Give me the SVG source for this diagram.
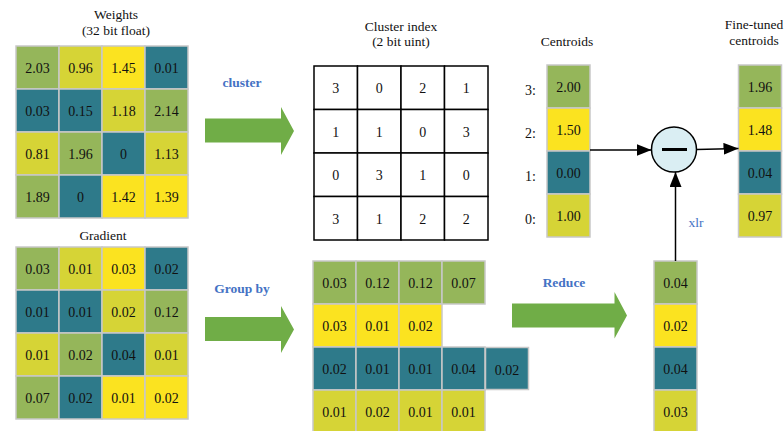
<svg xmlns="http://www.w3.org/2000/svg" width="784" height="431" viewBox="0 0 784 431" font-family="'Liberation Serif', 'DejaVu Serif', serif">
<style>
text{font-family:'Liberation Serif','DejaVu Serif',serif;fill:#111;}
.t{font-size:14px;text-anchor:middle;}
.h{font-size:13.5px;text-anchor:middle;}
.b{font-size:13.5px;font-weight:bold;fill:#4472C4;text-anchor:middle;}
.c{stroke:#C8C8C8;stroke-width:1.5;}
.G{fill:#95B65A;}
.Y{fill:#FBE320;}
.T{fill:#2E7A8A;}
.L{fill:#D6D436;}
.k{fill:#fff;stroke:#000;stroke-width:1.5;}
.ar{fill:#70AD47;}
.ln{stroke:#000;stroke-width:1.5;fill:none;}
</style>
<defs>
<marker id="ah" markerWidth="15" markerHeight="12" refX="15" refY="6" orient="auto" markerUnits="userSpaceOnUse">
<path d="M0,0 L15,6 L0,12 Z" fill="#000"/>
</marker>
</defs>

<g id="weights">
<text class="h" x="116" y="19">Weights</text>
<text class="h" x="116" y="35">(32 bit float)</text>
<rect class="c G" x="16" y="46" width="43" height="43"/><text class="t" x="37.5" y="73">2.03</text>
<rect class="c L" x="59" y="46" width="43" height="43"/><text class="t" x="80.5" y="73">0.96</text>
<rect class="c Y" x="102" y="46" width="43" height="43"/><text class="t" x="123.5" y="73">1.45</text>
<rect class="c T" x="145" y="46" width="43" height="43"/><text class="t" x="166.5" y="73">0.01</text>
<rect class="c T" x="16" y="89" width="43" height="43"/><text class="t" x="37.5" y="116">0.03</text>
<rect class="c T" x="59" y="89" width="43" height="43"/><text class="t" x="80.5" y="116">0.15</text>
<rect class="c L" x="102" y="89" width="43" height="43"/><text class="t" x="123.5" y="116">1.18</text>
<rect class="c G" x="145" y="89" width="43" height="43"/><text class="t" x="166.5" y="116">2.14</text>
<rect class="c L" x="16" y="132" width="43" height="43"/><text class="t" x="37.5" y="159">0.81</text>
<rect class="c G" x="59" y="132" width="43" height="43"/><text class="t" x="80.5" y="159">1.96</text>
<rect class="c T" x="102" y="132" width="43" height="43"/><text class="t" x="123.5" y="159">0</text>
<rect class="c L" x="145" y="132" width="43" height="43"/><text class="t" x="166.5" y="159">1.13</text>
<rect class="c G" x="16" y="175" width="43" height="43"/><text class="t" x="37.5" y="202">1.89</text>
<rect class="c T" x="59" y="175" width="43" height="43"/><text class="t" x="80.5" y="202">0</text>
<rect class="c Y" x="102" y="175" width="43" height="43"/><text class="t" x="123.5" y="202">1.42</text>
<rect class="c Y" x="145" y="175" width="43" height="43"/><text class="t" x="166.5" y="202">1.39</text>
</g>

<g id="gradient">
<text class="h" x="103" y="240">Gradient</text>
<rect class="c G" x="16" y="247" width="43" height="43"/><text class="t" x="37.5" y="274">0.03</text>
<rect class="c L" x="59" y="247" width="43" height="43"/><text class="t" x="80.5" y="274">0.01</text>
<rect class="c Y" x="102" y="247" width="43" height="43"/><text class="t" x="123.5" y="274">0.03</text>
<rect class="c T" x="145" y="247" width="43" height="43"/><text class="t" x="166.5" y="274">0.02</text>
<rect class="c T" x="16" y="290" width="43" height="43"/><text class="t" x="37.5" y="317">0.01</text>
<rect class="c T" x="59" y="290" width="43" height="43"/><text class="t" x="80.5" y="317">0.01</text>
<rect class="c L" x="102" y="290" width="43" height="43"/><text class="t" x="123.5" y="317">0.02</text>
<rect class="c G" x="145" y="290" width="43" height="43"/><text class="t" x="166.5" y="317">0.12</text>
<rect class="c L" x="16" y="333" width="43" height="43"/><text class="t" x="37.5" y="360">0.01</text>
<rect class="c G" x="59" y="333" width="43" height="43"/><text class="t" x="80.5" y="360">0.02</text>
<rect class="c T" x="102" y="333" width="43" height="43"/><text class="t" x="123.5" y="360">0.04</text>
<rect class="c L" x="145" y="333" width="43" height="43"/><text class="t" x="166.5" y="360">0.01</text>
<rect class="c G" x="16" y="376" width="43" height="43"/><text class="t" x="37.5" y="403">0.07</text>
<rect class="c T" x="59" y="376" width="43" height="43"/><text class="t" x="80.5" y="403">0.02</text>
<rect class="c Y" x="102" y="376" width="43" height="43"/><text class="t" x="123.5" y="403">0.01</text>
<rect class="c Y" x="145" y="376" width="43" height="43"/><text class="t" x="166.5" y="403">0.02</text>
</g>

<g id="cluster-arrow">
<text class="b" x="242" y="87">cluster</text>
<path class="ar" d="M205,118.5 H281 V107 L294,131 L281,155 V142.5 H205 Z"/>
</g>

<g id="groupby-arrow">
<text class="b" x="242" y="293">Group by</text>
<path class="ar" d="M205,317 H281 V306 L294,329.5 L281,353 V341 H205 Z"/>
</g>

<g id="cluster-index">
<text class="h" x="401" y="31">Cluster index</text>
<text class="h" x="401" y="46">(2 bit uint)</text>
<rect class="k" x="314" y="66" width="43.5" height="43.5"/><text class="t" x="335.75" y="93">3</text>
<rect class="k" x="357.5" y="66" width="43.5" height="43.5"/><text class="t" x="379.25" y="93">0</text>
<rect class="k" x="401" y="66" width="43.5" height="43.5"/><text class="t" x="422.75" y="93">2</text>
<rect class="k" x="444.5" y="66" width="43.5" height="43.5"/><text class="t" x="466.25" y="93">1</text>
<rect class="k" x="314" y="109.5" width="43.5" height="43.5"/><text class="t" x="335.75" y="136.5">1</text>
<rect class="k" x="357.5" y="109.5" width="43.5" height="43.5"/><text class="t" x="379.25" y="136.5">1</text>
<rect class="k" x="401" y="109.5" width="43.5" height="43.5"/><text class="t" x="422.75" y="136.5">0</text>
<rect class="k" x="444.5" y="109.5" width="43.5" height="43.5"/><text class="t" x="466.25" y="136.5">3</text>
<rect class="k" x="314" y="153" width="43.5" height="43.5"/><text class="t" x="335.75" y="180">0</text>
<rect class="k" x="357.5" y="153" width="43.5" height="43.5"/><text class="t" x="379.25" y="180">3</text>
<rect class="k" x="401" y="153" width="43.5" height="43.5"/><text class="t" x="422.75" y="180">1</text>
<rect class="k" x="444.5" y="153" width="43.5" height="43.5"/><text class="t" x="466.25" y="180">0</text>
<rect class="k" x="314" y="196.5" width="43.5" height="43.5"/><text class="t" x="335.75" y="223.5">3</text>
<rect class="k" x="357.5" y="196.5" width="43.5" height="43.5"/><text class="t" x="379.25" y="223.5">1</text>
<rect class="k" x="401" y="196.5" width="43.5" height="43.5"/><text class="t" x="422.75" y="223.5">2</text>
<rect class="k" x="444.5" y="196.5" width="43.5" height="43.5"/><text class="t" x="466.25" y="223.5">2</text>
</g>

<g id="grouped">
<rect class="c G" x="313" y="261" width="43" height="43"/><text class="t" x="334.5" y="288">0.03</text>
<rect class="c G" x="356" y="261" width="43" height="43"/><text class="t" x="377.5" y="288">0.12</text>
<rect class="c G" x="399" y="261" width="43" height="43"/><text class="t" x="420.5" y="288">0.12</text>
<rect class="c G" x="442" y="261" width="43" height="43"/><text class="t" x="463.5" y="288">0.07</text>
<rect class="c Y" x="313" y="304" width="43" height="43"/><text class="t" x="334.5" y="331">0.03</text>
<rect class="c Y" x="356" y="304" width="43" height="43"/><text class="t" x="377.5" y="331">0.01</text>
<rect class="c Y" x="399" y="304" width="43" height="43"/><text class="t" x="420.5" y="331">0.02</text>
<rect class="c T" x="313" y="347" width="43" height="43"/><text class="t" x="334.5" y="374">0.02</text>
<rect class="c T" x="356" y="347" width="43" height="43"/><text class="t" x="377.5" y="374">0.01</text>
<rect class="c T" x="399" y="347" width="43" height="43"/><text class="t" x="420.5" y="374">0.01</text>
<rect class="c T" x="442" y="347" width="43" height="43"/><text class="t" x="463.5" y="374">0.04</text>
<rect class="c T" x="485.5" y="347.5" width="43" height="42"/><text class="t" x="507" y="375">0.02</text>
<rect class="c L" x="313" y="390" width="43" height="43"/><text class="t" x="334.5" y="417">0.01</text>
<rect class="c L" x="356" y="390" width="43" height="43"/><text class="t" x="377.5" y="417">0.02</text>
<rect class="c L" x="399" y="390" width="43" height="43"/><text class="t" x="420.5" y="417">0.01</text>
<rect class="c L" x="442" y="390" width="43" height="43"/><text class="t" x="463.5" y="417">0.01</text>
</g>

<g id="reduce-arrow">
<text class="b" x="564" y="287">Reduce</text>
<path class="ar" d="M512,303.5 H614.5 V292 L627,315.5 L614.5,338.5 V327.5 H512 Z"/>
</g>

<g id="reduced">
<rect class="c G" x="654" y="261" width="43" height="43"/><text class="t" x="675.5" y="288">0.04</text>
<rect class="c Y" x="654" y="304" width="43" height="43"/><text class="t" x="675.5" y="331">0.02</text>
<rect class="c T" x="654" y="347" width="43" height="43"/><text class="t" x="675.5" y="374">0.04</text>
<rect class="c L" x="654" y="390" width="43" height="43"/><text class="t" x="675.5" y="417">0.03</text>
</g>

<g id="centroids">
<text class="h" x="567" y="46">Centroids</text>
<text class="t" x="530.5" y="95">3:</text>
<text class="t" x="530.5" y="138">2:</text>
<text class="t" x="530.5" y="180.5">1:</text>
<text class="t" x="530.5" y="223.5">0:</text>
<rect class="c G" x="547" y="65" width="43" height="43"/><text class="t" x="568.5" y="92">2.00</text>
<rect class="c Y" x="547" y="108" width="43" height="43"/><text class="t" x="568.5" y="135">1.50</text>
<rect class="c T" x="547" y="151" width="43" height="43"/><text class="t" x="568.5" y="178">0.00</text>
<rect class="c L" x="547" y="194" width="43" height="43"/><text class="t" x="568.5" y="221">1.00</text>
</g>

<g id="subtract">
<circle cx="674" cy="149.5" r="22.5" fill="#DAEEF3" stroke="#000" stroke-width="1.5"/>
<line x1="662" y1="149.5" x2="687" y2="149.5" stroke="#000" stroke-width="3"/>
</g>

<g id="finetuned">
<text class="h" x="754" y="29">Fine-tuned</text>
<text class="h" x="754" y="45">centroids</text>
<rect class="c G" x="738.5" y="65" width="43" height="43"/><text class="t" x="760" y="92">1.96</text>
<rect class="c Y" x="738.5" y="108" width="43" height="43"/><text class="t" x="760" y="135">1.48</text>
<rect class="c T" x="738.5" y="151" width="43" height="43"/><text class="t" x="760" y="178">0.04</text>
<rect class="c L" x="738.5" y="194" width="43" height="43"/><text class="t" x="760" y="221">0.97</text>
</g>

<g id="connectors">
<line class="ln" x1="590" y1="150" x2="651.5" y2="150" marker-end="url(#ah)"/>
<line class="ln" x1="696.5" y1="149.5" x2="738.5" y2="148.5" marker-end="url(#ah)"/>
<line class="ln" x1="675.5" y1="261" x2="675.5" y2="172" marker-end="url(#ah)"/>
<text x="696" y="227" font-size="13.5px" style="fill:#4472C4;text-anchor:middle">xlr</text>
</g>
</svg>
